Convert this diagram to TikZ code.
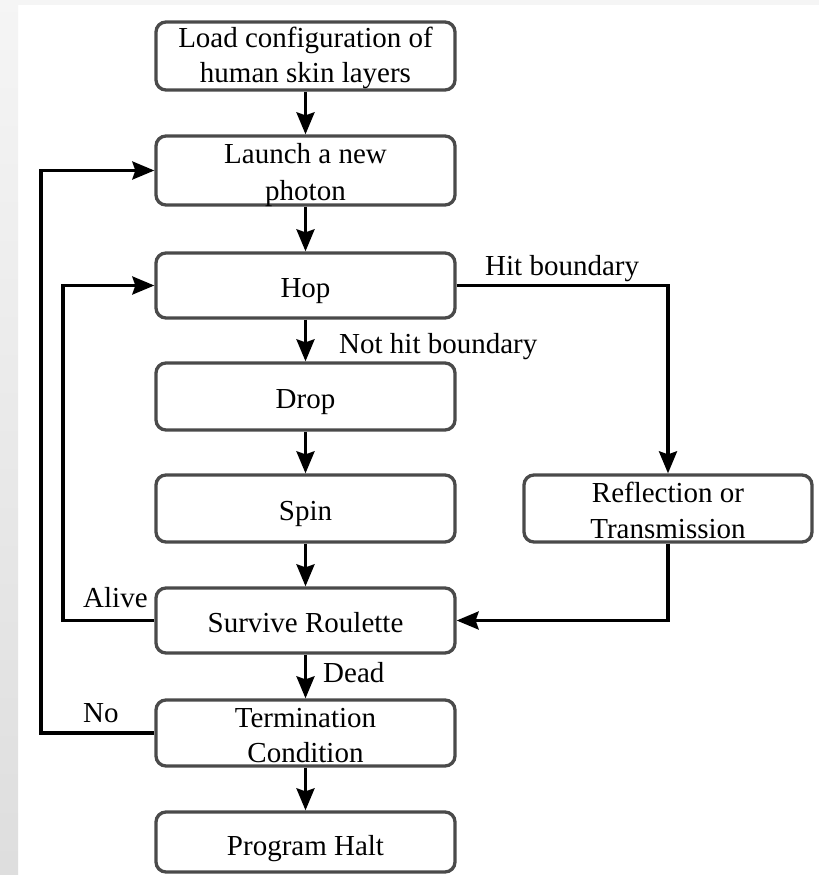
\documentclass[tikz,border=0pt]{standalone}
\usepackage{fontspec}
\setmainfont{Liberation Serif}
\usetikzlibrary{arrows.meta}
\definecolor{boxgray}{HTML}{4A4A4A}
\begin{document}
\begin{tikzpicture}[x=1pt,y=-1pt,
  box/.style={draw=boxgray, line width=3.3pt, rounded corners=10pt, minimum width=299pt, inner sep=0pt, fill=white},
  txt/.style={anchor=base, inner sep=0pt, font=\fontsize{29}{34}\selectfont},
  lbl/.style={anchor=base west, inner sep=0pt, font=\fontsize{29}{34}\selectfont},
  arr/.style={-{Stealth[length=22pt,width=18pt,inset=3pt]}, line width=3.3pt, black}]
\useasboundingbox (0,0) rectangle (819,875);
\fill[white] (0,0) rectangle (819,875);
\shade[top color=black!4, bottom color=black!13] (0,0) rectangle (18,875);
\fill[black!4] (18,0) rectangle (819,5);

% boxes
\node[box, minimum height=68pt] (load) at (305.5,56) {};
\node[box, minimum height=69pt] (launch) at (305.5,170.5) {};
\node[box, minimum height=65pt] (hop) at (305.5,285.5) {};
\node[box, minimum height=67pt] (drop) at (305.5,396.5) {};
\node[box, minimum height=67pt] (spin) at (305.5,508.5) {};
\node[box, minimum height=65pt] (survive) at (305.5,620.5) {};
\node[box, minimum height=66pt] (term) at (305.5,733) {};
\node[box, minimum height=60pt] (halt) at (305.5,842) {};
\node[box, minimum height=67pt, minimum width=288pt] (refl) at (668,508.5) {};

% box texts
\node[txt] (t1a) at (305.5,48) {Load configuration of};
\node[txt] (t1b) at (305.5,82) {human skin layers};
\node[txt] (t2a) at (305.5,163) {Launch a new};
\node[txt] (t2b) at (305.5,200) {photon};
\node[txt] (t3) at (305.5,297) {Hop};
\node[txt] (t4) at (305.5,408) {Drop};
\node[txt] (t5) at (305.5,520) {Spin};
\node[txt] (t6) at (305.5,632) {Survive Roulette};
\node[txt] (t7a) at (305.5,727) {Termination};
\node[txt] (t7b) at (305.5,762) {Condition};
\node[txt] (t8) at (305.5,855) {Program Halt};
\node[txt] (t9a) at (668,502) {Reflection or};
\node[txt] (t9b) at (668,538) {Transmission};

% coordinates for loops
\coordinate (aliveC) at (63,620.5);
\coordinate (noC) at (41,733);

% connectors
\draw[arr] (load) -- (launch);
\draw[arr] (launch) -- (hop);
\draw[arr] (hop) -- (drop);
\draw[arr] (drop) -- (spin);
\draw[arr] (spin) -- (survive);
\draw[arr] (survive) -- (term);
\draw[arr] (term) -- (halt);
\draw[arr] (hop.east) -| (refl.north);
\draw[arr] (refl.south) |- (survive.east);
\draw[arr] (survive.west) -- (aliveC) |- (hop.west);
\draw[arr] (term.west) -- (noC) |- (launch.west);

% labels
\node[lbl] (lhit) at (485,275) {Hit boundary};
\node[lbl] (lnot) at (339,353) {Not hit boundary};
\node[lbl] (lalive) at (83,607) {Alive};
\node[lbl] (lno) at (83,722) {No};
\node[lbl] (ldead) at (323,682) {Dead};
\end{tikzpicture}
\end{document}
